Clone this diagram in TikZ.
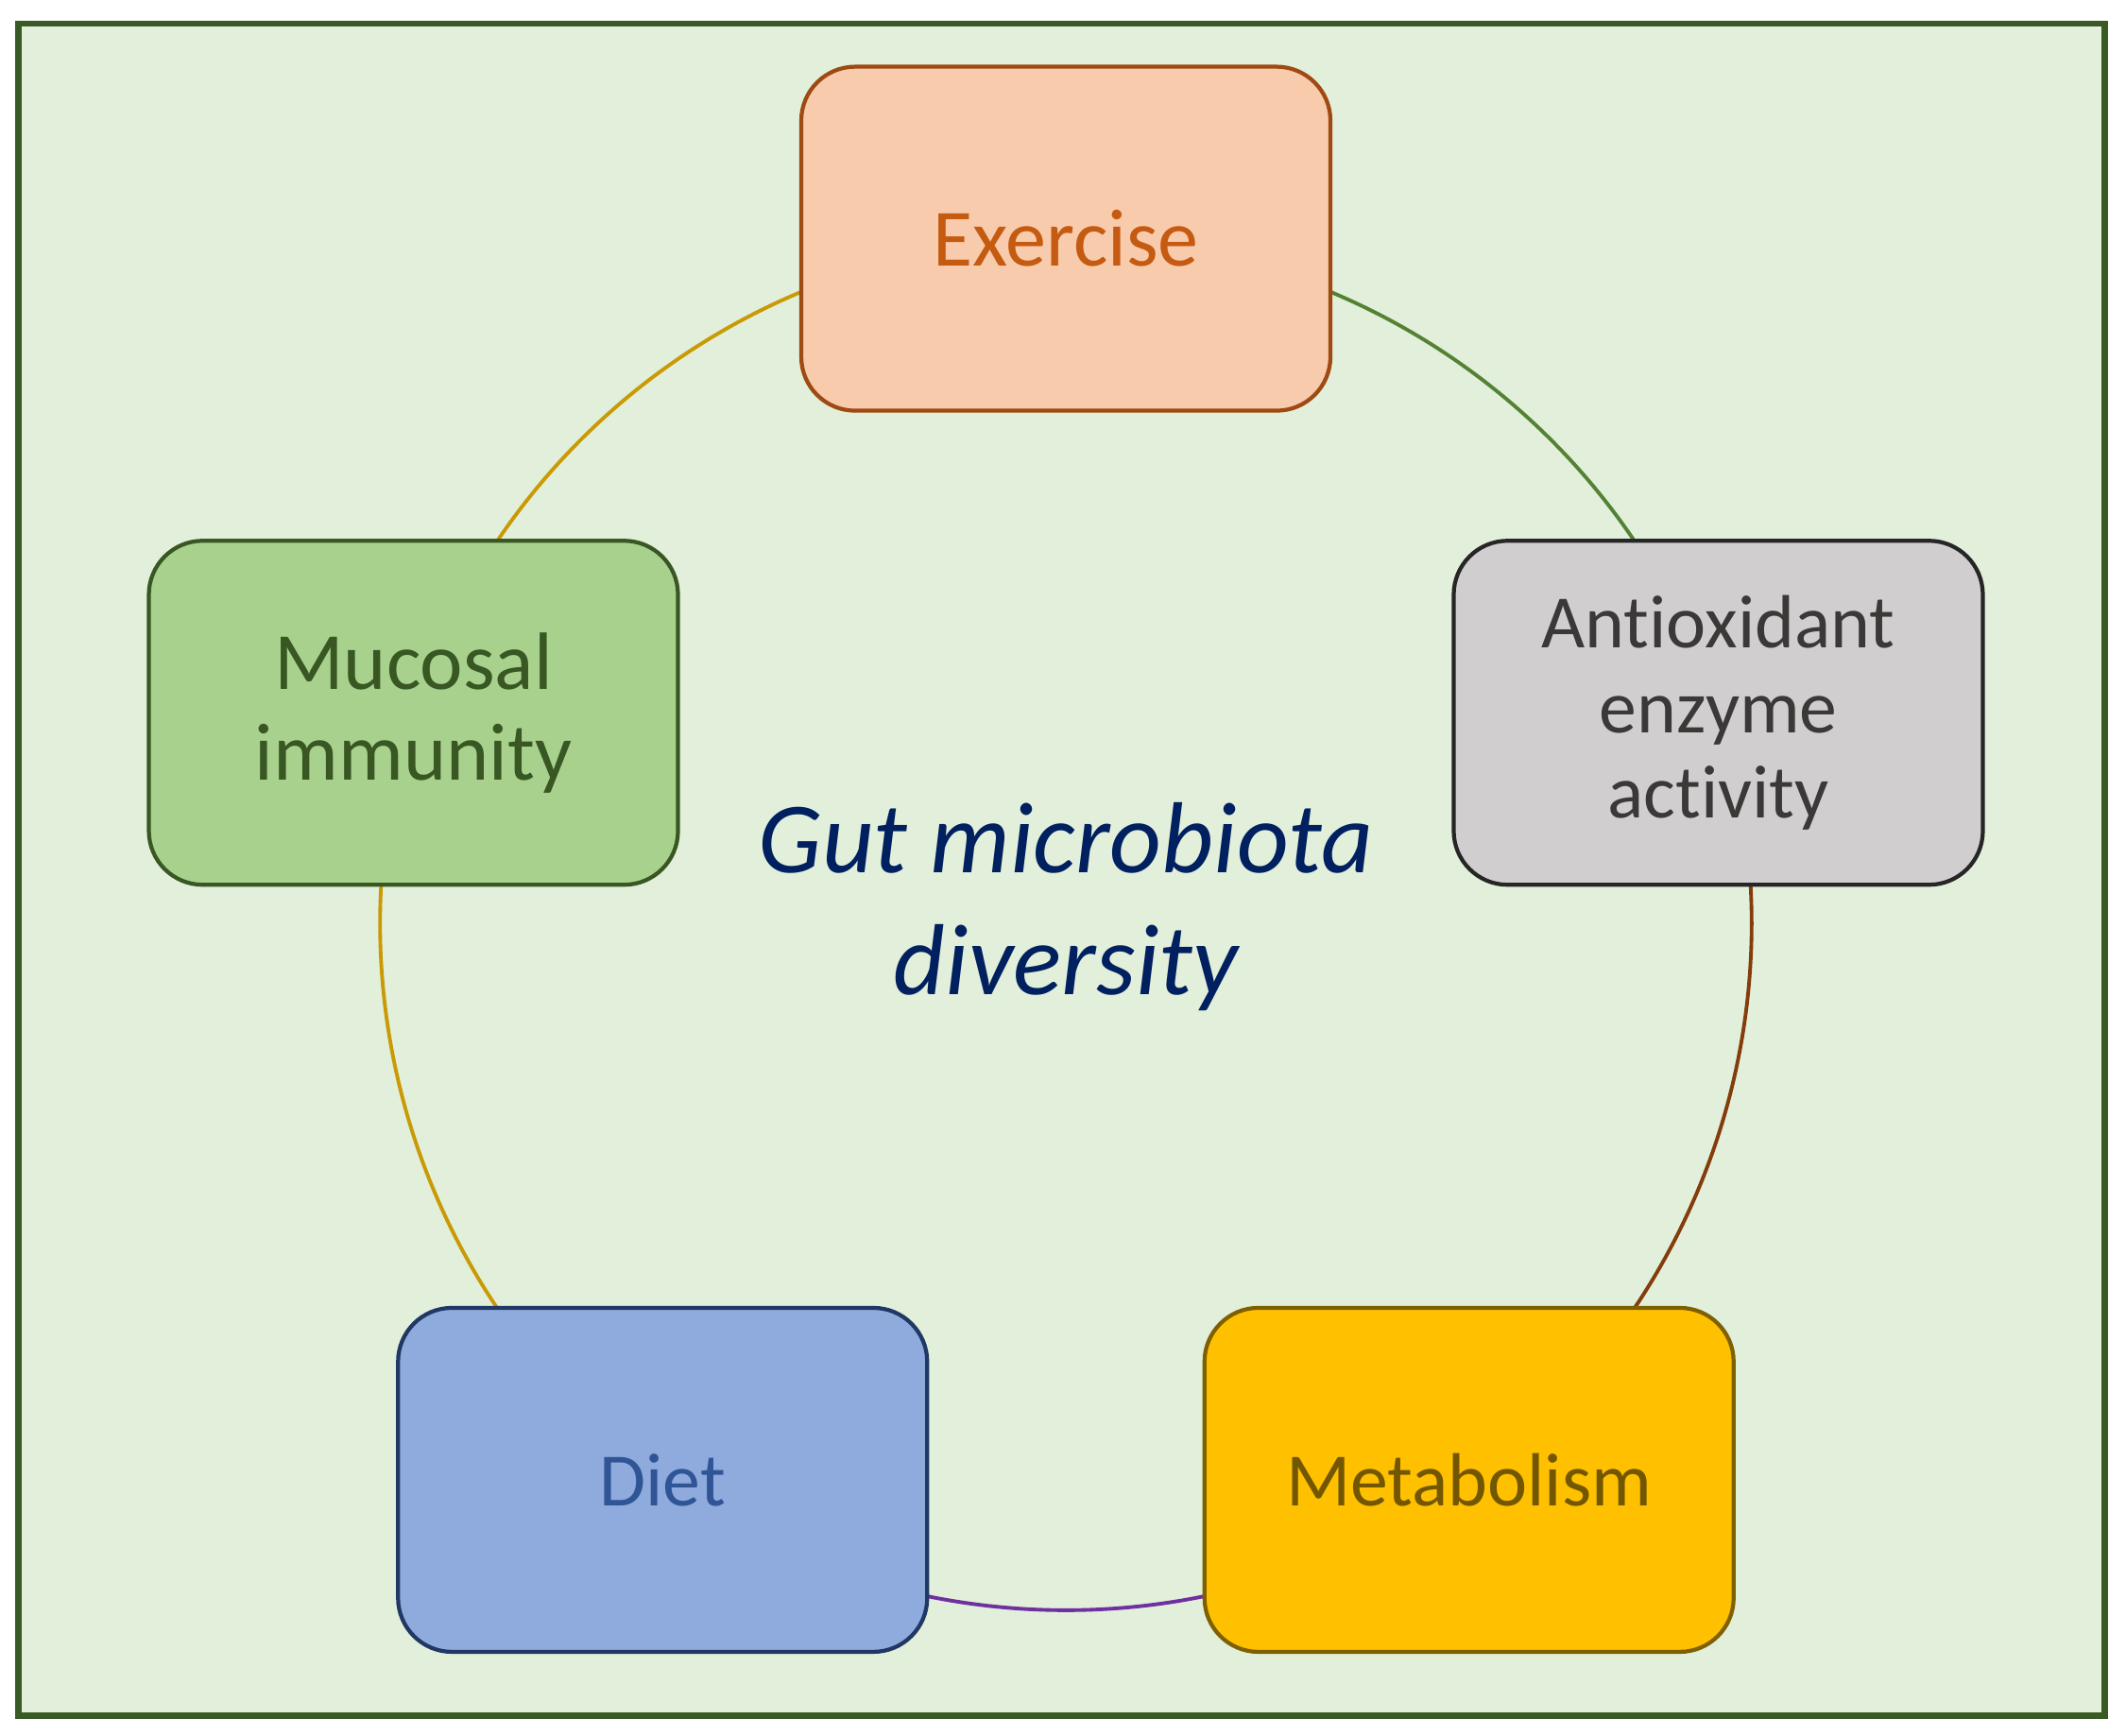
\documentclass[tikz,border=0pt]{standalone}
\usepackage{fontspec}
\setmainfont{Carlito}
\usepackage{tikz}
\usetikzlibrary{backgrounds}
\definecolor{bgpale}{HTML}{E2EFDA}
\definecolor{framegreen}{HTML}{3A5A25}
\definecolor{exfill}{HTML}{F8CBAD}\definecolor{exline}{HTML}{9E4A12}\definecolor{extext}{HTML}{C55A11}
\definecolor{anfill}{HTML}{D0CECE}\definecolor{anline}{HTML}{262626}\definecolor{antext}{HTML}{3B3838}
\definecolor{mufill}{HTML}{A9D18E}\definecolor{muline}{HTML}{385723}\definecolor{mutext}{HTML}{385723}
\definecolor{difill}{HTML}{8FAADC}\definecolor{diline}{HTML}{203864}\definecolor{ditext}{HTML}{2F5597}
\definecolor{mefill}{HTML}{FFC000}\definecolor{meline}{HTML}{7F6000}\definecolor{metext}{HTML}{735700}
\definecolor{navytext}{HTML}{002060}
\definecolor{arcgold}{HTML}{C99A06}\definecolor{arcgreen}{HTML}{548235}\definecolor{arcbrown}{HTML}{843C0C}\definecolor{arcpurple}{HTML}{7030A0}

\begin{document}
\begin{tikzpicture}[box/.style={draw,rounded corners=5.7mm,align=center,minimum width=56mm,minimum height=36.4mm,line width=1.2pt,inner sep=0pt},big/.style={font=\fontsize{24.5}{27.3}\selectfont},mid/.style={font=\fontsize{22.7}{25.6}\selectfont},link/.style={line width=1.1pt,bend right=36,looseness=0.94}]
\useasboundingbox (0,0) rectangle (22.5,18.36);
\coordinate (c) at (11.28,8.574);
\node[box,big,fill=exfill,draw=exline,text=extext] (ex) at ([shift={(90:7.26)}]c) {Exercise};
\node[box,mid,fill=anfill,draw=anline,text=antext] (an) at ([shift={(18:7.26)}]c) {Ant\kern0pt{}ioxidant\\enzyme\\act\kern0pt{}ivity};
\node[box,mid,fill=mefill,draw=meline,text=metext] (me) at ([shift={(-54:7.26)}]c) {Metabolism};
\node[box,mid,fill=difill,draw=diline,text=ditext] (di) at ([shift={(-126:7.26)}]c) {Diet};
\node[box,big,fill=mufill,draw=muline,text=mutext] (mu) at ([shift={(162:7.26)}]c) {Mucosal\\immunity};
\node[align=center,text=navytext,font=\fontsize{30.4}{36.7}\selectfont\itshape] (gut) at (11.28,8.76) {Gut microbiota\\diversity};
\begin{scope}[on background layer]
\draw[framegreen,line width=1.85pt,fill=bgpale] (0.195,0.205) rectangle (22.275,18.11);
\draw[link,arcgold] (ex.center) to (mu.center);
\draw[link,arcgold] (mu.center) to (di.center);
\draw[link,arcpurple] (di.center) to (me.center);
\draw[link,arcbrown] (me.center) to (an.center);
\draw[link,arcgreen] (an.center) to (ex.center);
\end{scope}
\end{tikzpicture}
\end{document}
